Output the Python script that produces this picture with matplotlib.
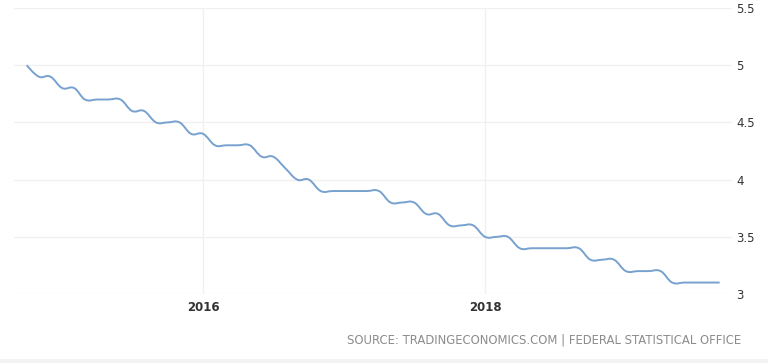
import numpy as np
import pandas as pd
import matplotlib
matplotlib.use("Agg")
import matplotlib.pyplot as plt
import matplotlib.dates as mdates
from matplotlib.path import Path
from matplotlib.patches import PathPatch, Rectangle

# ---- DATA ---- #
months = pd.date_range("2014-10-01", "2019-09-01", freq="MS")
rate = [5.0, 4.9, 4.9, 4.8, 4.8, 4.7, 4.7, 4.7, 4.7, 4.6,
        4.6, 4.5, 4.5, 4.5, 4.4, 4.4, 4.3, 4.3, 4.3, 4.3,
        4.2, 4.2, 4.1, 4.0, 4.0, 3.9, 3.9, 3.9, 3.9, 3.9,
        3.9, 3.8, 3.8, 3.8, 3.7, 3.7, 3.6, 3.6, 3.6, 3.5,
        3.5, 3.5, 3.4, 3.4, 3.4, 3.4, 3.4, 3.4, 3.3, 3.3,
        3.3, 3.2, 3.2, 3.2, 3.2, 3.1, 3.1, 3.1, 3.1, 3.1]
y_ticks = [3, 3.5, 4, 4.5, 5, 5.5]
y_tick_labels = ["3", "3.5", "4", "4.5", "5", "5.5"]
source_text = "SOURCE: TRADINGECONOMICS.COM | FEDERAL STATISTICAL OFFICE"

line_color = "#77a1cf"
grid_color = "#f0f0f0"


# ---- SMOOTH SPLINE PATH (highcharts style bezier) ---- #
def spline_path(xs, ys, smoothing=1.5):
    xs = np.asarray(xs, dtype=float)
    ys = np.asarray(ys, dtype=float)
    denom = smoothing + 1
    n = len(xs)
    left = [(xs[0], ys[0])] * n
    right = [(xs[-1], ys[-1])] * n
    for i in range(1, n - 1):
        lx = (smoothing * xs[i] + xs[i - 1]) / denom
        ly = (smoothing * ys[i] + ys[i - 1]) / denom
        rx = (smoothing * xs[i] + xs[i + 1]) / denom
        ry = (smoothing * ys[i] + ys[i + 1]) / denom
        corr = (ry - ly) * (rx - xs[i]) / (rx - lx) + ys[i] - ry
        left[i] = (lx, ly + corr)
        right[i] = (rx, ry + corr)
    verts = [(xs[0], ys[0])]
    codes = [Path.MOVETO]
    for i in range(1, n):
        c1 = right[i - 1] if i - 1 > 0 else (xs[0], ys[0])
        c2 = left[i] if i < n - 1 else (xs[-1], ys[-1])
        verts += [c1, c2, (xs[i], ys[i])]
        codes += [Path.CURVE4] * 3
    return Path(verts, codes)


# ---- PLOT ---- #
fig = plt.figure(figsize=(7.68, 3.63), dpi=100)
ax = fig.add_axes([14 / 768, 1 - 294 / 363, (732 - 14) / 768, (294 - 8) / 363])

x = mdates.date2num(months)
path = spline_path(x, rate)
ax.add_patch(PathPatch(path, facecolor="none", edgecolor=line_color, linewidth=1.4))

ax.set_xlim(mdates.date2num(pd.Timestamp("2014-08-29")), mdates.date2num(pd.Timestamp("2019-10-03")))
ax.set_ylim(3, 5.5)

ax.set_yticks(y_ticks)
ax.set_yticklabels(y_tick_labels)
ax.yaxis.tick_right()
ax.xaxis.set_major_locator(mdates.YearLocator(2))
ax.xaxis.set_major_formatter(mdates.DateFormatter("%Y"))

ax.tick_params(axis="y", length=0, pad=3, labelsize=8.5, labelcolor="#333333")
ax.tick_params(axis="x", length=0, pad=5, labelsize=8.5, labelcolor="#333333")
for lbl in ax.get_xticklabels():
    lbl.set_fontweight("bold")

ax.grid(True, color=grid_color, linewidth=1)
ax.set_axisbelow(True)
for s in ax.spines.values():
    s.set_visible(False)

fig.text(741 / 768, 1 - 340 / 363, source_text, ha="right", va="center",
         fontsize=8.4, color="#8c8c8c")
fig.patches.append(Rectangle((0, 0), 1, 4 / 363, transform=fig.transFigure,
                             facecolor="#f3f3f3", edgecolor="none"))

plt.savefig("out.png", dpi=100)
